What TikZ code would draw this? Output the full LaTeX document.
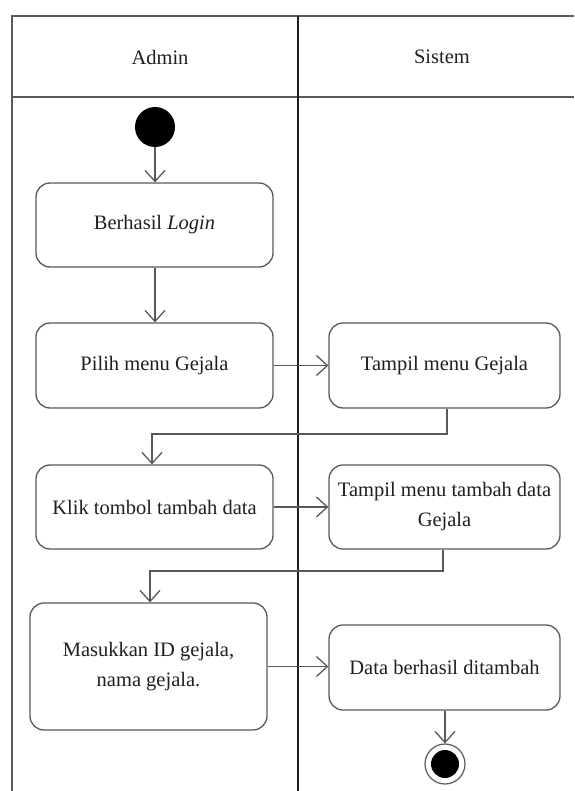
\documentclass[tikz,border=0pt]{standalone}
\usepackage{fontspec}
\setmainfont{Liberation Serif}
\usetikzlibrary{arrows.meta}
\definecolor{edge}{gray}{0.35}
\definecolor{ink}{gray}{0.12}
\tikzset{
  act/.style={draw=edge, line width=1.3pt, rounded corners=14pt, fill=white,
    text=ink, font=\fontsize{20.5}{30}\selectfont, align=center, inner sep=2pt},
  flow/.style={draw=edge, line width=1.3pt,
    -{Straight Barb[length=11pt,width=20pt,line width=1.3pt]}},
  lane/.style={draw=edge, line width=1.8pt},
  laneheader/.style={text=ink, font=\fontsize{20.5}{30}\selectfont},
}
\begin{document}
\begin{tikzpicture}[x=1pt,y=-1pt]
\useasboundingbox (0,0) rectangle (574,791);
% swimlane frame
\draw[lane] (574,16) -- (12,16) -- (12,791);
\draw[lane] (12,97) -- (574,97);
\draw[draw=ink, line width=2.4pt] (298,16) -- (298,791);
\node[laneheader] (hadmin) at (160,57) {Admin};
\node[laneheader] (hsistem) at (442,57) {Sistem};
% start and end
\node[circle, fill=black, minimum size=40pt, inner sep=0pt] (start) at (155,127) {};
\node[circle, draw=edge, line width=1.2pt, fill=white, minimum size=40pt, inner sep=0pt] (end) at (445,764) {};
\node[circle, fill=black, minimum size=28pt, inner sep=0pt] (endcore) at (445,764) {};
% activities
\node[act, minimum width=237pt, minimum height=84pt] (login) at (154.5,225) {Berhasil \textit{Login}};
\node[act, minimum width=237pt, minimum height=85pt] (pilih) at (154.5,365.5) {Pilih menu Gejala};
\node[act, minimum width=231pt, minimum height=85pt] (tampil) at (444.5,365.5) {Tampil menu Gejala};
\node[act, minimum width=237pt, minimum height=84pt] (klik) at (154.5,507) {Klik tombol tambah data};
\node[act, minimum width=231pt, minimum height=84pt] (tampiltambah) at (444.5,507) {Tampil menu tambah data\\Gejala};
\node[act, minimum width=237pt, minimum height=127pt] (masuk) at (148.5,666.5) {Masukkan ID gejala,\\nama gejala.};
\node[act, minimum width=231pt, minimum height=85pt] (data) at (444.5,667.5) {Data berhasil ditambah};
% control flow
\draw[flow] (start) -- (login.north -| start);
\draw[flow] (login.south -| start) -- (pilih.north -| start);
\draw[flow] (pilih.east) -- (tampil.west);
\draw[flow] (tampil.south -| 447,0) |- (300,434) -| (klik.north -| 152,0);
\draw[flow] (klik.east) -- (tampiltambah.west |- klik.east);
\draw[flow] (tampiltambah.south -| 443,0) |- (300,571) -| (masuk.north -| 150,0);
\draw[flow] (masuk.east) -- (data.west |- masuk.east);
\draw[flow] (data.south -| end) -- (end.north);
\end{tikzpicture}
\end{document}
